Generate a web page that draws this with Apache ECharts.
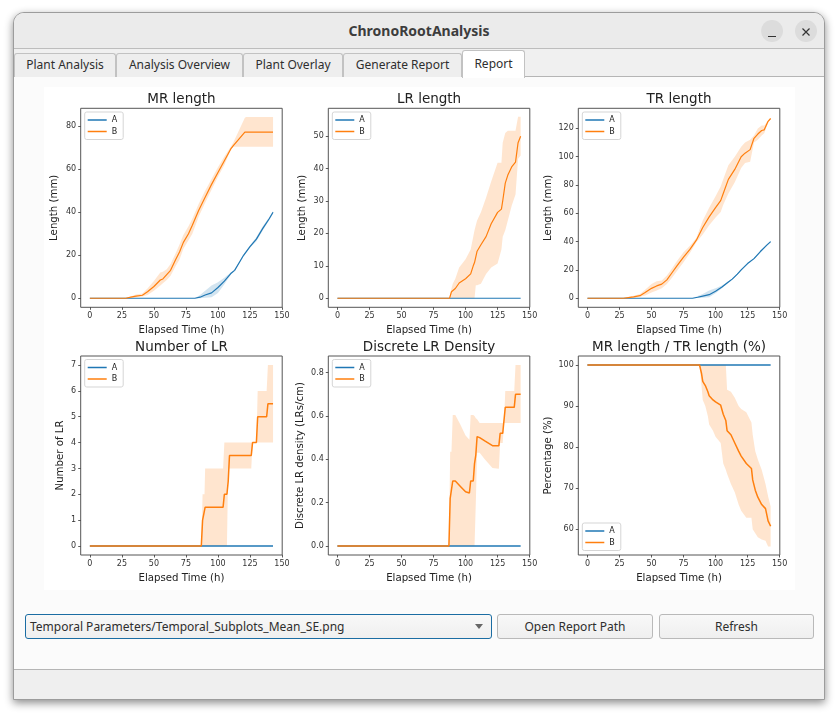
<!DOCTYPE html>
<html>
<head>
<meta charset="utf-8">
<title>ChronoRootAnalysis</title>
<script src="https://cdn.jsdelivr.net/npm/echarts@6/dist/echarts.min.js"></script>
<style>
html, body { margin: 0; padding: 0; width: 838px; height: 716px; background: #fff; overflow: hidden; font-family: "Noto Sans", sans-serif; color: #2e2e2e; }
div { box-sizing: border-box; position: absolute; }
#win { left: 13px; top: 12px; width: 812px; height: 688px; background: #fbfbfb; border: 1px solid #9c9c9c; border-radius: 11px 11px 0 0; box-shadow: 0 3px 9px rgba(0,0,0,.45); overflow: hidden; }
#titlebar { left: 0; top: 0; width: 810px; height: 36px; background: #ebebeb; border-bottom: 1px solid #bdbdbd; text-align: center; font-weight: 700; font-size: 14px; line-height: 35px; color: #3d3d3d; }
.wbtn { top: 7px; width: 22px; height: 22px; border-radius: 11px; background: #dcdcdc; }
#tabbar { left: 0; top: 36px; width: 810px; height: 28px; background: #f0f0f0; border-bottom: 1px solid #b5b5b5; }
.tab { top: 4px; height: 24px; background: #eeeeee; border: 1px solid #c2c2c2; border-bottom: none; border-radius: 3px 3px 0 0; text-align: center; font-size: 12px; line-height: 22px; }
#tabon { top: 1px; height: 28px; background: #fff; line-height: 25px; z-index: 2; }
#picture { left: 30px; top: 74px; width: 751px; height: 503px; background: #fff; }
.btn { top: 601px; height: 25px; border: 1px solid #b9b9b9; border-radius: 3px; background: linear-gradient(#f8f8f8, #efefef); text-align: center; font-size: 12px; line-height: 23px; }
#combo { left: 11px; width: 467px; border-color: #1b6da3; text-align: left; padding-left: 4px; }
#arrow { left: 449px; top: 9px; width: 0; height: 0; border-left: 4.5px solid transparent; border-right: 4.5px solid transparent; border-top: 5px solid #666; }
#status { left: 0; top: 656px; width: 810px; height: 30px; background: #efefef; border-top: 1px solid #b5b5b5; }
#chart { left: 0; top: 0; width: 838px; height: 716px; }
</style>
</head>
<body>
<div id="win">
  <div id="titlebar">ChronoRootAnalysis
    <div class="wbtn" style="left:747px"><svg width="22" height="22"><path d="M7 15.5h8" stroke="#333" stroke-width="1.2"/></svg></div>
    <div class="wbtn" style="left:781px"><svg width="22" height="22"><path d="M7.5 7.5l7 7M14.5 7.5l-7 7" stroke="#333" stroke-width="1.2"/></svg></div>
  </div>
  <div id="tabbar"></div>
  <div class="tab" style="left:0;top:40px;width:102px">Plant Analysis</div>
  <div class="tab" style="left:102px;top:40px;width:127px">Analysis Overview</div>
  <div class="tab" style="left:229px;top:40px;width:100px">Plant Overlay</div>
  <div class="tab" style="left:329px;top:40px;width:119px">Generate Report</div>
  <div class="tab" id="tabon" style="left:448px;top:37px;width:63px">Report</div>
  <div id="picture"></div>
  <div class="btn" id="combo">Temporal Parameters/Temporal_Subplots_Mean_SE.png<div id="arrow"></div></div>
  <div class="btn" style="left:483px;width:156px">Open Report Path</div>
  <div class="btn" style="left:645px;width:155px">Refresh</div>
  <div id="status"></div>
</div>
<div id="chart"></div>
<script>
// tick labels
var xTicks = [0, 25, 50, 75, 100, 125, 150];
var mrTicks = [0, 20, 40, 60, 80];
var lrTicks = [0, 10, 20, 30, 40, 50];
var trTicks = [0, 20, 40, 60, 80, 100, 120];
var numTicks = [0, 1, 2, 3, 4, 5, 6, 7];
var densTicks = [0, 0.2, 0.4, 0.6, 0.8];
var pctTicks = [60, 70, 80, 90, 100];

// MR length
var mrTimeA = [0, 82, 86, 90, 95, 100, 105, 110, 113, 117, 120, 125, 130, 135, 140, 143];
var mrMeanA = [0, 0, .5, 1.5, 2.5, 5, 8, 11.5, 13, 17, 20, 24, 27.5, 32.5, 37, 40];
var mrLowA = [0, 0, 0, .2, .5, 2.5, 6.5, 11, 12.7, 16.5, 19.5, 23.5, 26.5, 31.5, 36.3, 39.4];
var mrHighA = [0, 0, 1.5, 3.5, 6, 7.5, 9.5, 12, 13.3, 17.5, 20.5, 24.5, 28.5, 33.5, 37.7, 40.6];
var mrTimeB = [0, 28, 32, 36, 41, 45, 50, 55, 57, 60, 63, 67, 70, 73, 77, 80, 85, 90, 95, 100, 105, 110, 112, 121, 122, 143];
var mrMeanB = [0, 0, .5, 1, 1.4, 3, 5.5, 8.5, 9, 11, 13, 18, 21.5, 26, 30, 34, 41, 47, 53, 58.5, 64, 69.5, 71, 77.3, 77.3, 77.3];
var mrLowB = [0, 0, .2, .5, .8, 1.5, 3.5, 6, 7, 8.5, 10.5, 15, 18, 23, 27, 30, 38, 44.5, 50.5, 56.5, 62, 69, 70.5, 70.5, 70.5, 70.5];
var mrHighB = [0, 0, .8, 1.7, 2.2, 4.5, 8, 12, 12.3, 13.5, 16, 21, 25, 29.5, 33.5, 37, 44, 50, 55.5, 61, 66, 70.5, 72.5, 84, 84.3, 84.3];

// LR length
var lrTimeB = [0, 87.5, 89, 90, 92, 95, 100, 104, 106, 107, 108, 109, 112, 116, 120, 125, 128, 129, 131, 133, 136, 139, 141, 143];
var lrMeanB = [0, 0, 2, 2.4, 3, 4.7, 6, 7.5, 10, 11, 11.5, 14.5, 16.5, 19, 23, 26.5, 27.5, 30, 35.5, 38, 40.5, 42, 48, 50];
var lrLowB = [0, 0, 0, 0, 0, 0, 0, 0, 0, 0, 4, 4, 4.5, 7.5, 9.5, 10.7, 15, 19, 21, 24, 28.5, 32, 43, 44];
var lrHighB = [0, 0, 3, 4.5, 6, 9.5, 12, 15, 19, 21, 22.5, 24, 26.5, 31, 36, 41.8, 41.8, 48, 51, 51.7, 51.7, 51.7, 56, 56];

// TR length
var trTimeA = [0, 82, 86, 90, 95, 100, 105, 110, 113, 117, 120, 125, 130, 135, 140, 143];
var trMeanA = [0, 0, .7, 1.5, 2.5, 5, 8, 11.5, 13.5, 17, 20, 24.5, 28, 33, 37.5, 40];
var trLowA = [0, 0, .2, .4, .7, 3.5, 7, 11, 13, 16.5, 19.5, 24, 27.5, 32.5, 37, 39.6];
var trHighA = [0, 0, 1.5, 3, 5.5, 7, 9, 12, 14, 17.5, 20.5, 25, 28.5, 33.5, 38, 40.4];
var trTimeB = [0, 28, 32, 36, 41, 45, 50, 54, 58, 62, 66, 70, 75, 80, 85, 90, 95, 100, 104, 106, 110, 115, 120, 123, 127, 130, 133, 136, 138, 141, 143];
var trMeanB = [0, 0, .5, 1, 1.8, 4, 7, 8.7, 10, 13, 18, 23, 29, 34.5, 41, 50, 57.5, 64, 69, 74, 84, 91, 100, 102.5, 105, 113, 116, 118.5, 119, 125, 127];
var trLowB = [0, 0, .2, .4, 1, 2, 4, 5.5, 7, 10, 14.5, 19.5, 25.5, 32, 39.5, 45, 51.5, 57, 61, 66, 74, 82, 92, 95.5, 96.5, 110, 112, 115, 116.5, 124, 126.5];
var trHighB = [0, 0, 1, 1.8, 3, 6, 10, 12, 12.5, 16, 21, 26.5, 32.5, 37, 42.5, 55, 64, 72, 79, 84, 94, 100, 107, 110, 112, 115, 120, 122, 122, 125.5, 127.5];

// Number of LR
var numTimeB = [0, 87, 88, 89.5, 90, 104, 105, 107, 108, 109, 126, 127, 130, 131, 138, 139, 143];
var numMeanB = [0, 0, 1, 1, 1.5, 1.5, 2, 2, 2.5, 3.5, 3.5, 4, 4, 5, 5, 5.5, 5.5];
var numLowB = [0, 0, 0, 0, 0, 0, 0, 0, 3, 3, 3, 4, 4, 4, 4, 4, 4];
var numHighB = [0, 0, 2, 2, 3, 3, 4, 4, 4, 4, 4, 4, 4, 6, 6, 7, 7];

// Discrete LR density
var densTimeB = [0, 87, 88, 89, 90, 92, 96, 100, 103, 104, 106, 107, 108, 109, 111, 115, 121, 126, 127, 129, 130, 131, 138, 139, 143];
var densMeanB = [0, 0, .22, .22, .3, .3, .275, .25, .245, .3, .3, .38, .42, .505, .5, .485, .463, .463, .52, .52, .58, .64, .64, .7, .7];
var densLowB = [0, 0, 0, 0, 0, 0, 0, 0, 0, 0, 0, 0, .2, .43, .43, .4, .36, .357, .475, .475, .568, .568, .568, .568, .568];
var densHighB = [0, 0, .435, .435, .605, .605, .56, .51, .49, .605, .605, .6, .59, .585, .568, .568, .568, .568, .568, .568, .568, .715, .715, .835, .835];

// MR length / TR length
var pctTimeB = [0, 87.5, 89, 90, 92, 94, 95, 98, 100, 104, 106, 108, 109, 112, 115, 118, 120, 124, 128, 129, 131, 133, 136, 139, 141, 143];
var pctMeanB = [100, 100, 98, 96, 95, 93.5, 92.5, 91.5, 91, 90.2, 88, 86.5, 84, 83, 81, 79, 77.8, 76, 74.8, 72, 69.5, 67.8, 66, 65, 62, 60.7];
var pctLowB = [100, 100, 95, 91.5, 90, 87.5, 85.5, 84, 82.5, 81, 76, 74.5, 73.5, 71, 69, 66, 64.5, 62.8, 62.8, 60, 59, 58, 57.5, 57.2, 55.8, 55.8];
var pctHighB = [100, 100, 100, 100, 100, 100, 100, 100, 100, 100, 100, 100, 94, 93.5, 92, 90, 89.3, 88.5, 86, 83, 79, 77, 74.5, 71, 68, 65.5];

// line A sits flat in the three lateral root panels
var flatTime = [0, 143];
var flatZero = [0, 0];
var flatHundred = [100, 100];

var colorA = '#1f77b4', colorB = '#ff7f0e';
var bandA = 'rgba(31,119,180,0.2)', bandB = 'rgba(255,127,14,0.2)';
var tickColor = '#333';
var plotFont = '"DejaVu Sans", sans-serif';

var panels = [
  { title: 'MR length', yName: 'Length (mm)', left: 80.7, top: 108.3, yMin: -4.2, yMax: 88.4, yTicks: mrTicks, yGap: 21, width: 1.2,
    a: [mrTimeA, mrMeanA, mrLowA, mrHighA], b: [mrTimeB, mrMeanB, mrLowB, mrHighB], legendTop: 112 },
  { title: 'LR length', yName: 'Length (mm)', left: 328.3, top: 108.3, yMin: -2.8, yMax: 58.6, yTicks: lrTicks, yGap: 21, width: 1.2,
    a: [flatTime, flatZero], b: [lrTimeB, lrMeanB, lrLowB, lrHighB], legendTop: 112 },
  { title: 'TR length', yName: 'Length (mm)', left: 578.3, top: 108.3, yMin: -6.4, yMax: 134.2, yTicks: trTicks, yGap: 25, width: 1.2,
    a: [trTimeA, trMeanA, trLowA, trHighA], b: [trTimeB, trMeanB, trLowB, trHighB], legendTop: 112 },
  { title: 'Number of LR', yName: 'Number of LR', left: 80.7, top: 356, yMin: -0.35, yMax: 7.35, yTicks: numTicks, yGap: 15, width: 1.5,
    a: [flatTime, flatZero], b: [numTimeB, numMeanB, numLowB, numHighB], legendTop: 359.5 },
  { title: 'Discrete LR Density', yName: 'Discrete LR density (LRs/cm)', left: 328.3, top: 356, yMin: -0.0415, yMax: 0.877, yTicks: densTicks, yGap: 23, width: 1.5,
    a: [flatTime, flatZero], b: [densTimeB, densMeanB, densLowB, densHighB], legendTop: 359.5 },
  { title: 'MR length / TR length (%)', yName: 'Percentage (%)', left: 578.3, top: 356, yMin: 53.7, yMax: 102.2, yTicks: pctTicks, yGap: 25, width: 1.5,
    a: [flatTime, flatHundred], b: [pctTimeB, pctMeanB, pctLowB, pctHighB], legendTop: 523 }
];

var plotW = 201.5, plotH = 199;

// shaded standard error, one polygon through the axis scales
function bandSeries(i, curve, fill) {
  var times = curve[0], low = curve[2], high = curve[3];
  return {
    type: 'custom', xAxisIndex: i, yAxisIndex: i, silent: true, animation: false, z: 1,
    data: times.map(function (t, k) { return [t, low[k], high[k]]; }),
    encode: { x: 0, y: [1, 2] },
    renderItem: function (params, api) {
      if (params.dataIndex !== 0) return null;
      var pts = [];
      times.forEach(function (t, k) { pts.push(api.coord([t, high[k]])); });
      for (var k = times.length - 1; k >= 0; k--) pts.push(api.coord([times[k], low[k]]));
      return { type: 'polygon', shape: { points: pts }, style: { fill: fill } };
    }
  };
}

function lineSeries(i, name, curve, color, z, width) {
  return {
    name: name, type: 'line', xAxisIndex: i, yAxisIndex: i, z: z, symbol: 'none', showSymbol: false, animation: false, silent: true,
    data: curve[0].map(function (t, k) { return [t, curve[1][k]]; }),
    lineStyle: { color: color, width: width }, itemStyle: { color: color }
  };
}

var series = [];
panels.forEach(function (p, i) {
  if (p.a.length > 2) series.push(bandSeries(i, p.a, bandA));
  series.push(bandSeries(i, p.b, bandB));
  series.push(lineSeries(i, 'A', p.a, colorA, 3, p.width));
  series.push(lineSeries(i, 'B', p.b, colorB, 4, p.width));
});

var option = {
  backgroundColor: 'transparent',
  animation: false,
  textStyle: { fontFamily: plotFont },
  title: panels.map(function (p) {
    return { text: p.title, left: p.left + plotW / 2, top: p.top - 16, textAlign: 'center', padding: 0,
      textStyle: { fontSize: 13.5, fontWeight: 'normal', color: '#222', fontFamily: plotFont } };
  }),
  legend: panels.map(function (p) {
    return { data: ['A', 'B'], icon: 'rect', left: p.left + 4, top: p.legendTop, orient: 'vertical', itemWidth: 19, itemHeight: 1.5, itemGap: 3.5,
      padding: [4, 6, 4, 3], backgroundColor: 'rgba(255,255,255,0.8)', borderColor: '#d5d5d5', borderWidth: 1, borderRadius: 2,
      selectedMode: false, textStyle: { fontSize: 8, color: '#222', fontFamily: plotFont } };
  }),
  grid: panels.map(function (p) {
    return { left: p.left, top: p.top, width: plotW, height: plotH, show: true, borderColor: '#555', borderWidth: 1, backgroundColor: 'transparent' };
  }),
  xAxis: panels.map(function (p, i) {
    return { type: 'value', gridIndex: i, min: -7.15, max: 150.15, name: 'Elapsed Time (h)', nameLocation: 'middle', nameGap: 18, nameMoveOverlap: false,
      nameTextStyle: { fontSize: 10.2, color: '#222' }, splitLine: { show: false }, axisLine: { show: false, onZero: false },
      axisTick: { customValues: xTicks, length: 2.5, lineStyle: { color: tickColor, width: 0.8 } },
      axisLabel: { customValues: xTicks, fontSize: 8, color: tickColor, margin: 4.5, hideOverlap: false } };
  }),
  yAxis: panels.map(function (p, i) {
    return { type: 'value', gridIndex: i, min: p.yMin, max: p.yMax, name: p.yName, nameLocation: 'middle', nameGap: p.yGap, nameMoveOverlap: false,
      nameTextStyle: { fontSize: 10.2, color: '#222' }, splitLine: { show: false }, axisLine: { show: false, onZero: false },
      axisTick: { customValues: p.yTicks, length: 2.5, lineStyle: { color: tickColor, width: 0.8 } },
      axisLabel: { customValues: p.yTicks, fontSize: 8, color: tickColor, margin: 4.5, hideOverlap: false,
        formatter: function (v) { return p.yTicks === densTicks ? v.toFixed(1) : String(v); } } };
  }),
  series: series
};

var myChart = echarts.init(document.getElementById('chart'));
myChart.setOption(option);
</script>
</body>
</html>
